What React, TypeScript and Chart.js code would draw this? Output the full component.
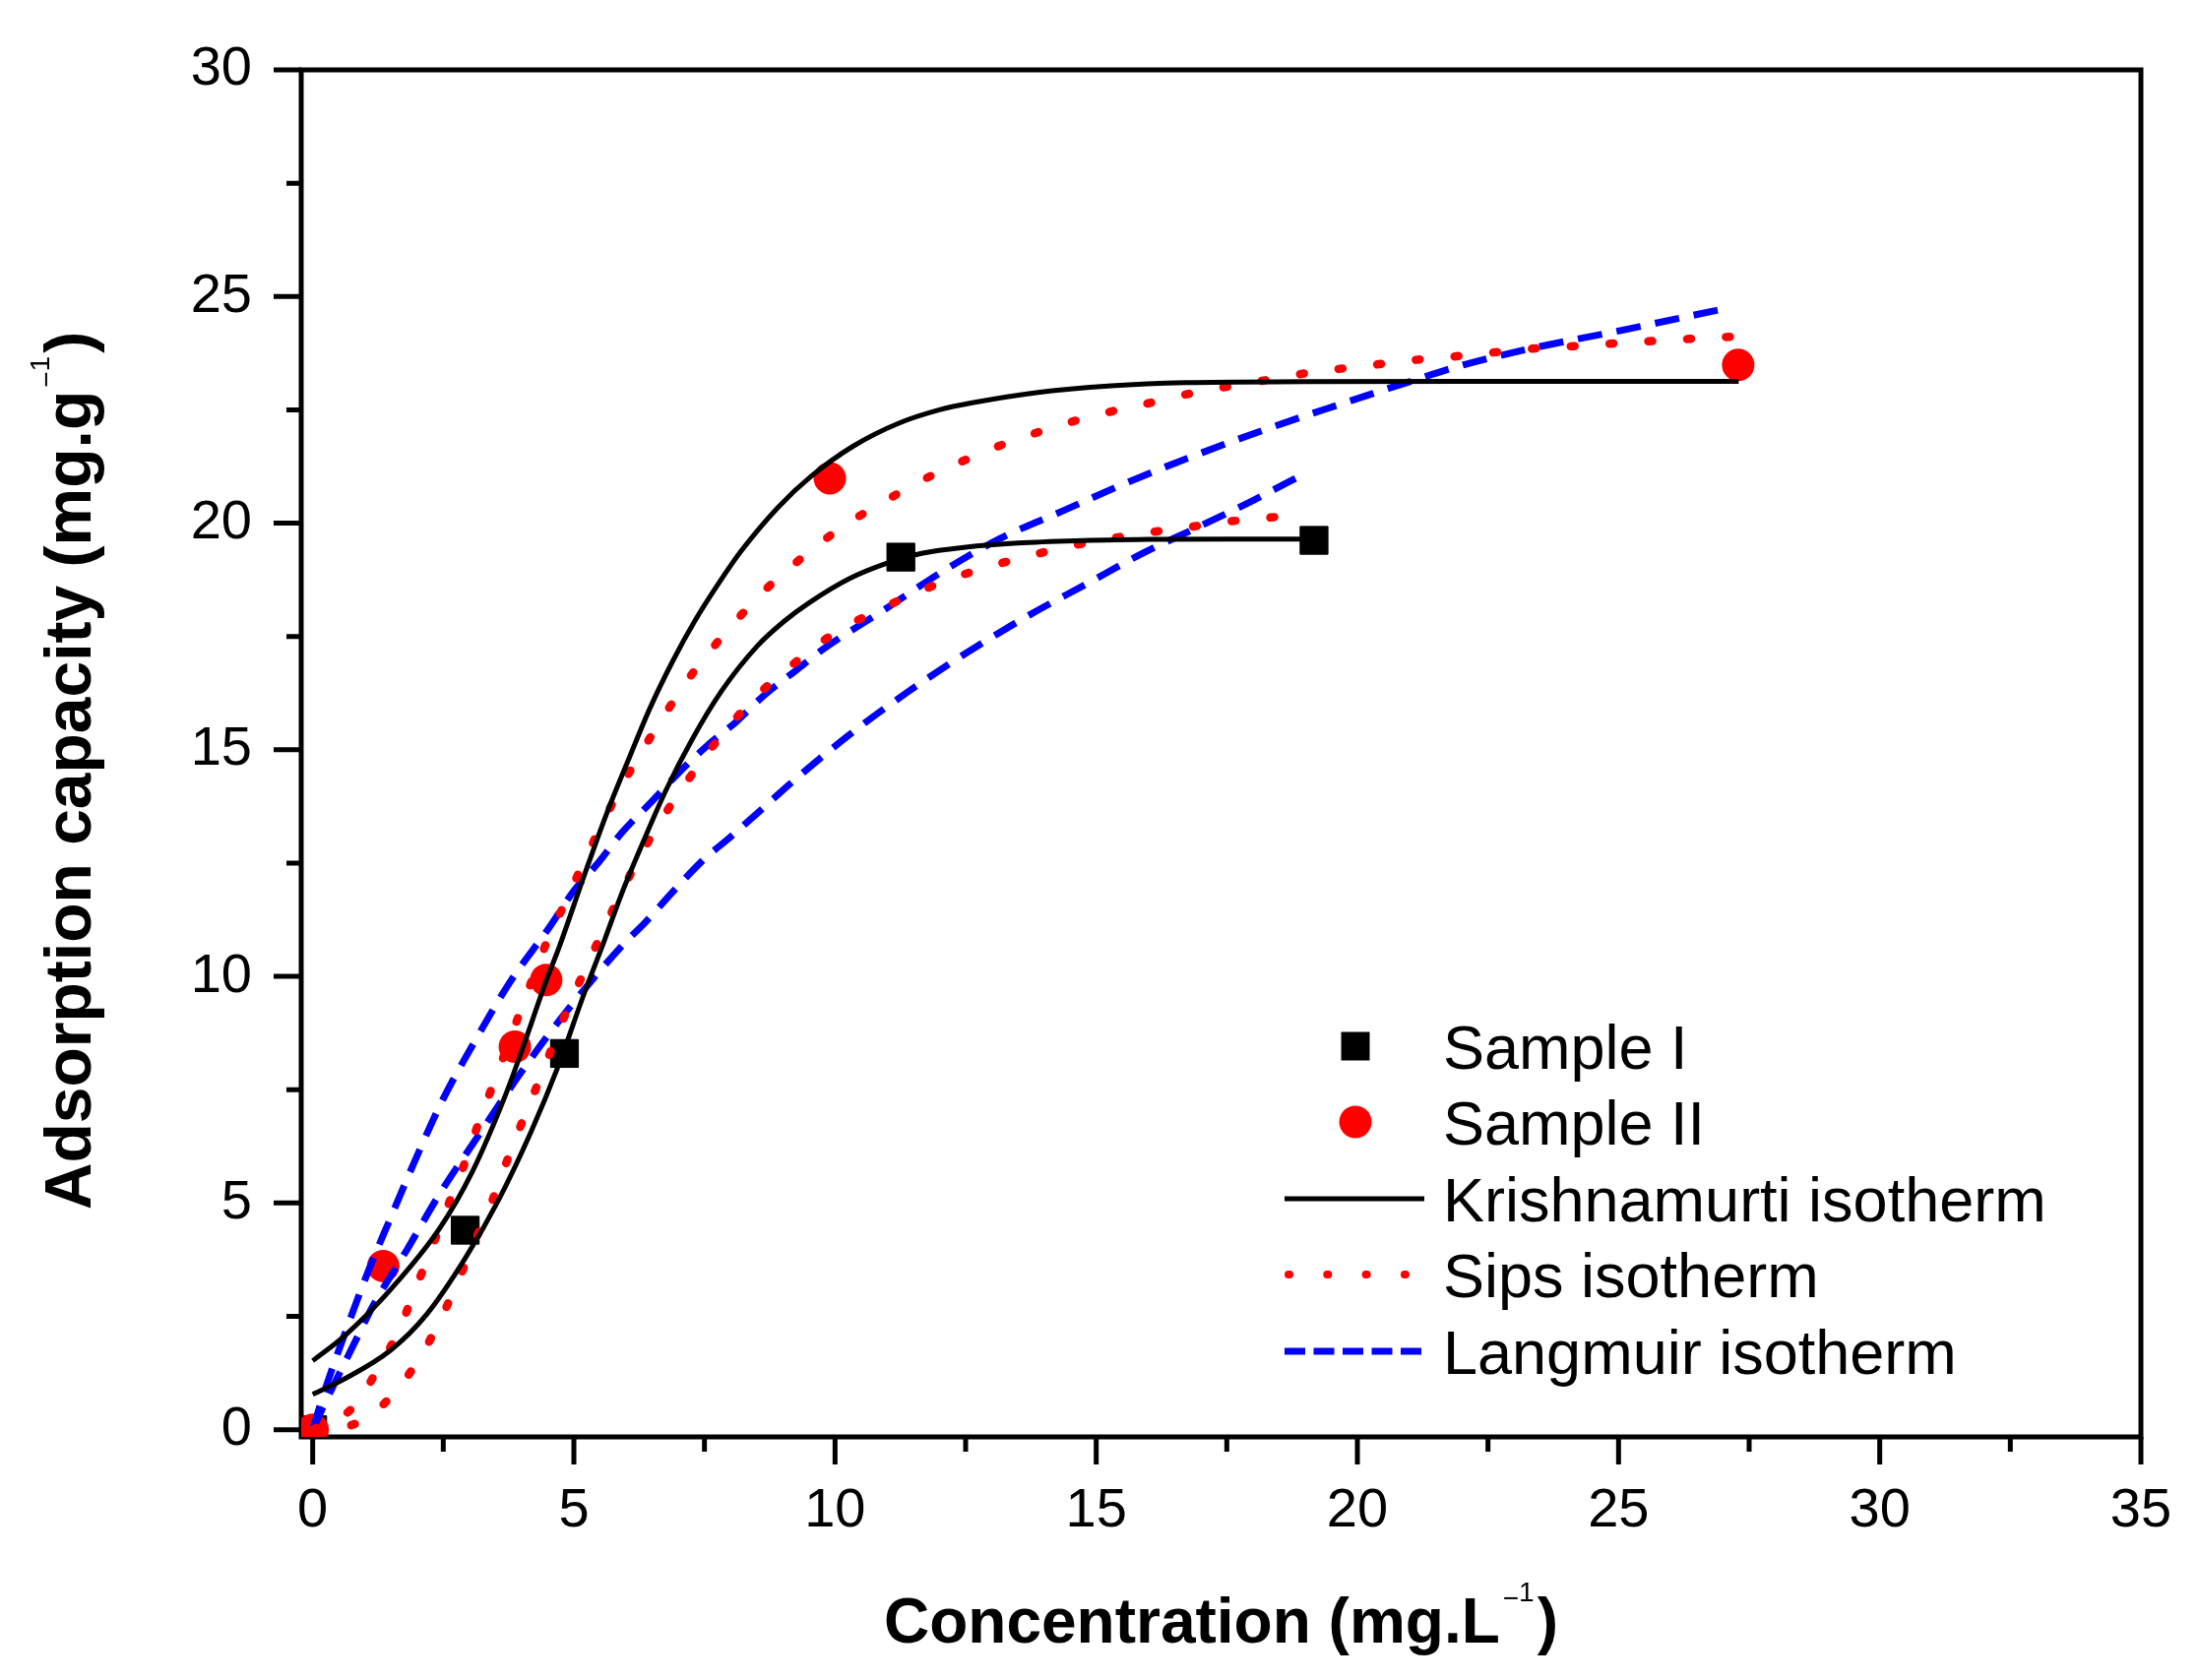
import React, { useEffect, useRef } from 'react';
import { Chart, registerables } from 'chart.js';

Chart.register(...registerables);

const FONT = "'Liberation Sans', Arial, Helvetica, sans-serif";

// Axis ticks
const xTickValues = [0, 5, 10, 15, 20, 25, 30, 35];
const yTickValues = [0, 5, 10, 15, 20, 25, 30];

// Experimental data
const sampleIX = [0, 2.92, 4.82, 11.26, 19.17];
const sampleIY = [0, 4.40, 8.30, 19.25, 19.62];
const sampleIIX = [0, 1.35, 3.87, 4.47, 9.90, 27.29];
const sampleIIY = [0, 3.61, 8.45, 9.92, 20.99, 23.49];

// Krishnamurti isotherm fits
const krishIX = [0, 0.61, 1.49, 2.18, 2.93, 3.56, 4.18, 4.69, 5.19, 5.57, 5.94, 6.32, 6.76, 7.26, 7.83, 8.52, 9.02, 9.5, 10.28, 11.0, 11.68, 12.5, 13.5, 14.6, 16.0, 17.5, 19.2];
const krishIY = [0.78, 1.12, 1.75, 2.54, 3.80, 5.07, 6.57, 7.99, 9.6, 10.75, 11.9, 12.95, 14.1, 15.22, 16.3, 17.3, 17.83, 18.24, 18.78, 19.12, 19.34, 19.47, 19.56, 19.61, 19.64, 19.65, 19.65];
const krishIIX = [0, 0.61, 1.49, 2.43, 3.06, 3.68, 4.0, 4.47, 4.72, 5.19, 5.63, 6.07, 6.45, 6.89, 7.32, 7.76, 8.2, 8.91, 9.56, 10.35, 11.21, 12.0, 12.65, 13.85, 15.29, 16.73, 19.0, 22.0, 27.3];
const krishIIY = [1.52, 2.07, 3.09, 4.44, 5.70, 7.35, 8.35, 9.9, 10.65, 12.2, 13.6, 14.85, 15.9, 16.95, 17.85, 18.65, 19.38, 20.35, 21.05, 21.7, 22.2, 22.5, 22.66, 22.88, 23.03, 23.1, 23.12, 23.13, 23.13];

// Sips isotherm fits
const sipsIX = [0, 0.77, 1.52, 2.05, 2.46, 2.8, 3.12, 3.43, 3.71, 4.0, 4.31, 4.91, 5.22, 5.55, 5.91, 6.31, 6.75, 7.25, 7.79, 8.45, 9.24, 9.95, 10.75, 11.47, 12.19, 12.95, 13.69, 14.44, 15.18, 15.92, 16.65, 17.4, 18.13, 18.95];
const sipsIY = [0, 0.11, 0.75, 1.59, 2.46, 3.33, 4.2, 5.03, 5.9, 6.76, 7.63, 9.37, 10.16, 10.99, 11.86, 12.74, 13.59, 14.44, 15.27, 16.13, 16.93, 17.54, 18.04, 18.42, 18.76, 19.04, 19.27, 19.48, 19.64, 19.78, 19.89, 20.02, 20.1, 20.2];
const sipsIIX = [0, 0.77, 1.27, 1.66, 1.96, 2.25, 2.55, 2.84, 3.09, 3.37, 3.65, 3.93, 4.5, 4.83, 5.17, 5.53, 5.91, 6.35, 6.82, 7.32, 7.94, 8.63, 9.37, 10.13, 10.9, 11.61, 12.35, 13.09, 13.82, 14.57, 15.31, 16.06, 16.8, 17.54, 18.28, 19.03, 19.77, 20.52, 21.26, 21.98, 22.72, 23.47, 24.21, 24.96, 25.7, 26.44, 27.3];
const sipsIIY = [0, 0.49, 1.38, 2.22, 3.09, 3.92, 4.83, 5.66, 6.49, 7.36, 8.22, 9.09, 10.81, 11.62, 12.47, 13.34, 14.19, 15.06, 15.92, 16.76, 17.63, 18.49, 19.24, 19.91, 20.45, 20.91, 21.32, 21.68, 21.98, 22.25, 22.47, 22.66, 22.86, 23.02, 23.16, 23.31, 23.42, 23.52, 23.62, 23.69, 23.78, 23.86, 23.91, 23.97, 24.02, 24.07, 24.12];

// Langmuir isotherm fits
const langIX = [0, 0.25, 0.58, 0.85, 1.14, 1.8, 2.43, 3.18, 4.0, 4.84, 5.94, 6.35, 6.89, 7.45, 8.01, 8.58, 9.14, 10.24, 11.36, 12.52, 13.7, 14.8, 15.9, 17.0, 18.0, 19.0];
const langIY = [0, 0.62, 1.4, 2.03, 2.7, 3.96, 5.2, 6.5, 7.9, 9.2, 10.7, 11.17, 11.86, 12.54, 13.09, 13.67, 14.25, 15.3, 16.25, 17.14, 17.96, 18.65, 19.34, 19.94, 20.5, 21.1];
const langIIX = [0, 0.2, 0.39, 0.61, 1.02, 1.49, 1.96, 2.49, 3.09, 3.78, 4.56, 5.0, 5.44, 5.91, 6.45, 6.98, 7.58, 8.11, 8.64, 9.24, 9.81, 10.93, 12.08, 13.16, 14.38, 15.5, 16.61, 18.22, 19.61, 21.05, 22.06, 23.31, 25.04, 26.9];
const langIIY = [0, 0.75, 1.4, 2.1, 3.37, 4.67, 5.94, 7.28, 8.54, 9.88, 11.13, 11.89, 12.47, 13.16, 13.81, 14.46, 15.12, 15.62, 16.2, 16.74, 17.25, 18.08, 18.95, 19.66, 20.28, 20.85, 21.37, 22.06, 22.6, 23.14, 23.5, 23.85, 24.25, 24.7];

const legendLabels = ['Sample I', 'Sample II', 'Krishnamurti isotherm', 'Sips isotherm', 'Langmuir isotherm'];
const xTitleText = 'Concentration (mg.L';
const yTitleText = 'Adsorption capacity (mg.g';

const toXY = (xs: number[], ys: number[]) => xs.map((x, i) => ({ x, y: ys[i] }));

const DOT_DASH = [4, 35.5];
const LONG_DASH = [25, 15];
const AXIS_W = 5;

function drawTitle(ctx: CanvasRenderingContext2D, main: string, size: number) {
  const mainFont = `bold ${size}px ${FONT}`;
  const supFont = `28px ${FONT}`;
  ctx.font = mainFont;
  const w1 = ctx.measureText(main).width;
  const w3 = ctx.measureText(')').width;
  ctx.font = supFont;
  const wm = ctx.measureText('\u2212').width;
  const w1s = ctx.measureText('1').width;
  const gap = 3;
  const total = w1 + gap + wm + w1s + gap + w3;
  let x = -total / 2;
  ctx.textAlign = 'left';
  ctx.textBaseline = 'alphabetic';
  ctx.fillStyle = '#000';
  ctx.font = mainFont;
  ctx.fillText(main, x, 0);
  x += w1 + gap;
  ctx.font = supFont;
  ctx.fillText('\u2212', x, -36);
  x += wm;
  ctx.fillText('1', x, -42);
  x += w1s + gap;
  ctx.font = mainFont;
  ctx.fillText(')', x, 0);
}

const framePlugin = {
  id: 'frameAndLegend',
  beforeDatasetsDraw(chart: any) {
    const { ctx, chartArea: a, scales } = chart;
    const xs = scales.x;
    const ys = scales.y;
    ctx.save();
    ctx.strokeStyle = '#000';
    ctx.lineWidth = AXIS_W;
    ctx.lineCap = 'butt';
    ctx.beginPath();
    xTickValues.forEach((v, i) => {
      const px = xs.getPixelForValue(v);
      ctx.moveTo(px, a.bottom);
      ctx.lineTo(px, a.bottom + 28);
      if (i < xTickValues.length - 1) {
        const pm = xs.getPixelForValue((v + xTickValues[i + 1]) / 2);
        ctx.moveTo(pm, a.bottom);
        ctx.lineTo(pm, a.bottom + 15);
      }
    });
    yTickValues.forEach((v, i) => {
      const py = ys.getPixelForValue(v);
      ctx.moveTo(a.left, py);
      ctx.lineTo(a.left - 28, py);
      if (i < yTickValues.length - 1) {
        const pm = ys.getPixelForValue((v + yTickValues[i + 1]) / 2);
        ctx.moveTo(a.left, pm);
        ctx.lineTo(a.left - 15, pm);
      }
    });
    ctx.stroke();
    ctx.strokeRect(a.left, a.top, a.right - a.left, a.bottom - a.top);
    ctx.restore();
  },
  afterDraw(chart: any) {
    const { ctx, chartArea: a } = chart;
    ctx.save();
    // X title
    ctx.save();
    ctx.translate((a.left + a.right) / 2, 1669);
    drawTitle(ctx, xTitleText, 64);
    ctx.restore();
    // Y title
    ctx.save();
    ctx.translate(92, 783);
    ctx.rotate(-Math.PI / 2);
    drawTitle(ctx, yTitleText, 66);
    ctx.restore();

    // Legend
    const symX = 1377;
    const textX = 1466;
    const rows = [1063, 1140, 1218, 1295, 1373];
    ctx.fillStyle = '#000';
    ctx.fillRect(symX - 14.5, rows[0] - 14.5, 29, 29);
    ctx.fillStyle = '#ff0000';
    ctx.beginPath();
    ctx.arc(symX, rows[1], 16.5, 0, Math.PI * 2);
    ctx.fill();
    ctx.strokeStyle = '#000';
    ctx.lineWidth = 5;
    ctx.lineCap = 'butt';
    ctx.beginPath();
    ctx.moveTo(1305, rows[2]);
    ctx.lineTo(1447, rows[2]);
    ctx.stroke();
    ctx.strokeStyle = '#ff0000';
    ctx.lineWidth = 8;
    ctx.lineCap = 'round';
    ctx.setLineDash([1, 38.3]);
    ctx.beginPath();
    ctx.moveTo(1309, rows[3]);
    ctx.lineTo(1430, rows[3]);
    ctx.stroke();
    ctx.strokeStyle = '#0000ff';
    ctx.lineWidth = 7;
    ctx.lineCap = 'butt';
    ctx.setLineDash([21, 8.5]);
    ctx.beginPath();
    ctx.moveTo(1305, rows[4]);
    ctx.lineTo(1444, rows[4]);
    ctx.stroke();
    ctx.setLineDash([]);

    ctx.fillStyle = '#000';
    ctx.font = `63px ${FONT}`;
    ctx.textAlign = 'left';
    ctx.textBaseline = 'alphabetic';
    legendLabels.forEach((t, i) => {
      ctx.fillText(t, textX, rows[i] + 22.5);
    });
    ctx.restore();
  },
};

const zeroPadding = (scale: any) => {
  scale.paddingTop = 0;
  scale.paddingBottom = 0;
  scale.paddingLeft = 0;
  scale.paddingRight = 0;
};

export default function App() {
  const canvasRef = useRef<HTMLCanvasElement>(null);

  useEffect(() => {
    document.body.style.margin = '0';
    const canvas = canvasRef.current;
    if (!canvas) return;

    const lineBase = {
      type: 'scatter' as const,
      showLine: true,
      pointRadius: 0,
      pointHoverRadius: 0,
      cubicInterpolationMode: 'monotone' as const,
      fill: false,
    };

    const chart = new Chart(canvas, {
      type: 'scatter',
      data: {
        datasets: [
          { ...lineBase, label: 'Krishnamurti I', data: toXY(krishIX, krishIY), borderColor: '#000', borderWidth: 5, order: 1 },
          { ...lineBase, label: 'Krishnamurti II', data: toXY(krishIIX, krishIIY), borderColor: '#000', borderWidth: 5, order: 2 },
          { ...lineBase, label: 'Sips I', data: toXY(sipsIX, sipsIY), borderColor: '#ff0000', borderWidth: 8.5, borderDash: DOT_DASH, borderCapStyle: 'round', order: 3 },
          { ...lineBase, label: 'Sips II', data: toXY(sipsIIX, sipsIIY), borderColor: '#ff0000', borderWidth: 8.5, borderDash: DOT_DASH, borderCapStyle: 'round', order: 4 },
          { ...lineBase, label: 'Langmuir I', data: toXY(langIX, langIY), borderColor: '#0000ff', borderWidth: 7, borderDash: LONG_DASH, order: 5 },
          { ...lineBase, label: 'Langmuir II', data: toXY(langIIX, langIIY), borderColor: '#0000ff', borderWidth: 7, borderDash: LONG_DASH, order: 6 },
          {
            type: 'scatter',
            label: 'Sample II',
            data: toXY(sampleIIX, sampleIIY),
            pointStyle: 'circle',
            pointRadius: 16.5,
            backgroundColor: '#ff0000',
            borderColor: '#ff0000',
            borderWidth: 0,
            showLine: false,
            order: 7,
          },
          {
            type: 'scatter',
            label: 'Sample I',
            data: toXY(sampleIX, sampleIY),
            pointStyle: 'rect',
            pointRadius: 20,
            backgroundColor: '#000',
            borderColor: '#000',
            borderWidth: 1,
            showLine: false,
            order: 8,
          },
        ],
      },
      options: {
        animation: false,
        responsive: false,
        maintainAspectRatio: false,
        events: [],
        layout: { padding: { left: 0, top: 71, right: 58, bottom: 0 } },
        plugins: {
          legend: { display: false },
          tooltip: { enabled: false },
          title: { display: false },
        },
        scales: {
          x: {
            type: 'linear',
            position: 'bottom',
            min: -0.22,
            max: 35,
            afterBuildTicks: (scale: any) => {
              scale.ticks = xTickValues.map((v) => ({ value: v }));
            },
            afterFit: (scale: any) => {
              scale.height = 247;
              zeroPadding(scale);
            },
            grid: { display: false, drawTicks: false },
            border: { display: false },
            ticks: {
              color: '#000',
              font: { family: FONT, size: 56 },
              padding: 42,
              maxRotation: 0,
              autoSkip: false,
              callback: (v: any) => String(v),
            },
          },
          y: {
            type: 'linear',
            position: 'left',
            min: -0.16,
            max: 30,
            afterBuildTicks: (scale: any) => {
              scale.ticks = yTickValues.map((v) => ({ value: v }));
            },
            afterFit: (scale: any) => {
              scale.width = 306;
              zeroPadding(scale);
            },
            grid: { display: false, drawTicks: false },
            border: { display: false },
            ticks: {
              color: '#000',
              font: { family: FONT, size: 56 },
              padding: 50,
              autoSkip: false,
              callback: (v: any) => String(v),
            },
          },
        },
      },
      plugins: [framePlugin],
    } as any);

    return () => {
      chart.destroy();
    };
  }, []);

  return (
    <div style={{ width: 2233, height: 1707, background: '#ffffff' }}>
      <canvas ref={canvasRef} width={2233} height={1707} style={{ display: 'block' }} />
    </div>
  );
}
